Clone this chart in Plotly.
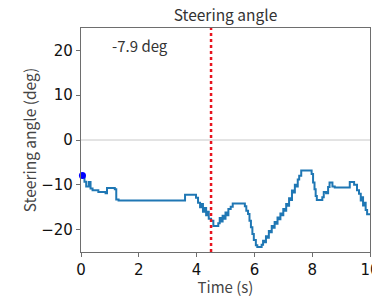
import plotly.graph_objects as go

# ---- data ----
time_s = [0.05, 0.12, 0.18, 0.27, 0.33, 0.40, 0.60, 0.85, 0.90, 1.17,
          1.22, 1.30, 3.60, 3.98, 4.05, 4.12, 4.16, 4.22, 4.28, 4.33,
          4.38, 4.42, 4.50, 4.58, 4.75, 4.80, 4.85, 4.90, 4.95, 5.00,
          5.06, 5.10, 5.18, 5.25, 5.67, 5.72, 5.78, 5.83, 5.88, 5.93,
          5.98, 6.05, 6.10, 6.25, 6.30, 6.34, 6.40, 6.45, 6.50, 6.55,
          6.60, 6.65, 6.70, 6.75, 6.80, 6.85, 6.90, 6.95, 7.00, 7.05,
          7.10, 7.15, 7.20, 7.25, 7.30, 7.35, 7.40, 7.45, 7.50, 7.55,
          7.62, 7.98, 8.03, 8.08, 8.12, 8.16, 8.35, 8.40, 8.48, 8.55,
          8.60, 8.70, 8.78, 9.30, 9.45, 9.55, 9.62, 9.68, 9.72, 9.76,
          9.80, 9.85, 9.90, 10.0]
angle_deg = [-8.0, -9.3, -10.4, -9.4, -10.8, -11.2, -11.6, -11.9, -10.7, -11.0,
             -13.3, -13.5, -12.2, -12.9, -14.0, -15.0, -14.3, -16.0, -15.2, -16.8,
             -16.0, -17.6, -18.0, -19.2, -18.6, -17.4, -18.2, -16.9, -17.6, -16.2,
             -16.8, -15.4, -14.9, -14.2, -14.8, -15.8, -16.5, -18.0, -19.5, -21.0,
             -22.3, -23.5, -23.9, -23.4, -22.5, -22.8, -21.5, -21.8, -20.3, -20.6,
             -19.2, -19.6, -18.3, -18.7, -17.3, -17.7, -16.4, -16.8, -15.4, -15.8,
             -14.3, -14.7, -13.0, -13.4, -11.3, -11.7, -10.0, -10.4, -8.8, -8.0,
             -6.8, -7.6, -9.5, -11.0, -12.5, -13.4, -12.8, -11.6, -11.9, -10.5,
             -9.5, -10.4, -10.6, -9.4, -10.0, -11.2, -12.0, -13.5, -12.8, -14.6,
             -14.0, -15.6, -16.6, -16.6]

current_time = 4.5
current_value = -7.9
marker_time = 0.05
label_text = "-7.9 deg"
x_ticks = [0, 2, 4, 6, 8, 10]
y_ticks = [-20, -10, 0, 10, 20]

title_font = "Noto Sans CJK JP"
tick_font = "DejaVu Sans"
axis_color = "#6e6e6e"

fig = go.Figure()
fig.add_trace(go.Scatter(
    x=time_s, y=angle_deg, mode="lines", line_shape="hv",
    line=dict(color="#1f77b4", width=2), showlegend=False,
))
fig.add_trace(go.Scatter(
    x=[marker_time], y=[current_value], mode="markers",
    marker=dict(color="#0000ff", size=7), showlegend=False, cliponaxis=False,
))
fig.add_shape(type="line", xref="paper", yref="y", x0=0, x1=1, y0=0, y1=0,
              line=dict(color="#c8c8c8", width=1), layer="below")
fig.add_shape(type="line", xref="x", yref="paper", x0=current_time, x1=current_time,
              y0=0, y1=1, line=dict(color="#e8141e", width=2.5, dash="dot"))
fig.add_annotation(x=0.1, y=0.92, xref="paper", yref="paper", text=label_text,
                   showarrow=False, xanchor="left", yanchor="middle",
                   font=dict(family=title_font, size=15, color="#333333"))

fig.update_layout(
    width=372, height=297,
    margin=dict(l=81, r=2, t=28, b=45, autoexpand=False),
    paper_bgcolor="white", plot_bgcolor="white",
    title=dict(text="Steering angle", x=0.5, xref="paper", xanchor="center",
               y=0.949, yanchor="middle",
               font=dict(family=title_font, size=15.5, color="#333333")),
)
fig.update_xaxes(
    range=[0, 10], tickvals=x_ticks, ticks="outside", ticklen=4, tickcolor=axis_color,
    showgrid=False, zeroline=False, showline=True, linecolor=axis_color, linewidth=1.2,
    mirror=True, tickfont=dict(family=tick_font, size=15, color="#111111"), automargin=False,
    ticklabeloverflow="allow",
    title=dict(text="Time (s)", standoff=3, font=dict(family=title_font, size=15, color="#444444")),
)
fig.update_yaxes(
    range=[-25, 25], tickvals=y_ticks, ticks="outside", ticklen=4, tickcolor=axis_color,
    showgrid=False, zeroline=False, showline=True, linecolor=axis_color, linewidth=1.2,
    mirror=True, tickfont=dict(family=tick_font, size=15, color="#111111"), automargin=False,
    ticklabeloverflow="allow",
    title=dict(text="Steering angle (deg)", standoff=0, font=dict(family=title_font, size=15.5, color="#444444")),
)

fig.write_html("out.html", config={"displayModeBar": False},
               post_script="document.body.style.margin='0';document.body.style.overflow='hidden';")
